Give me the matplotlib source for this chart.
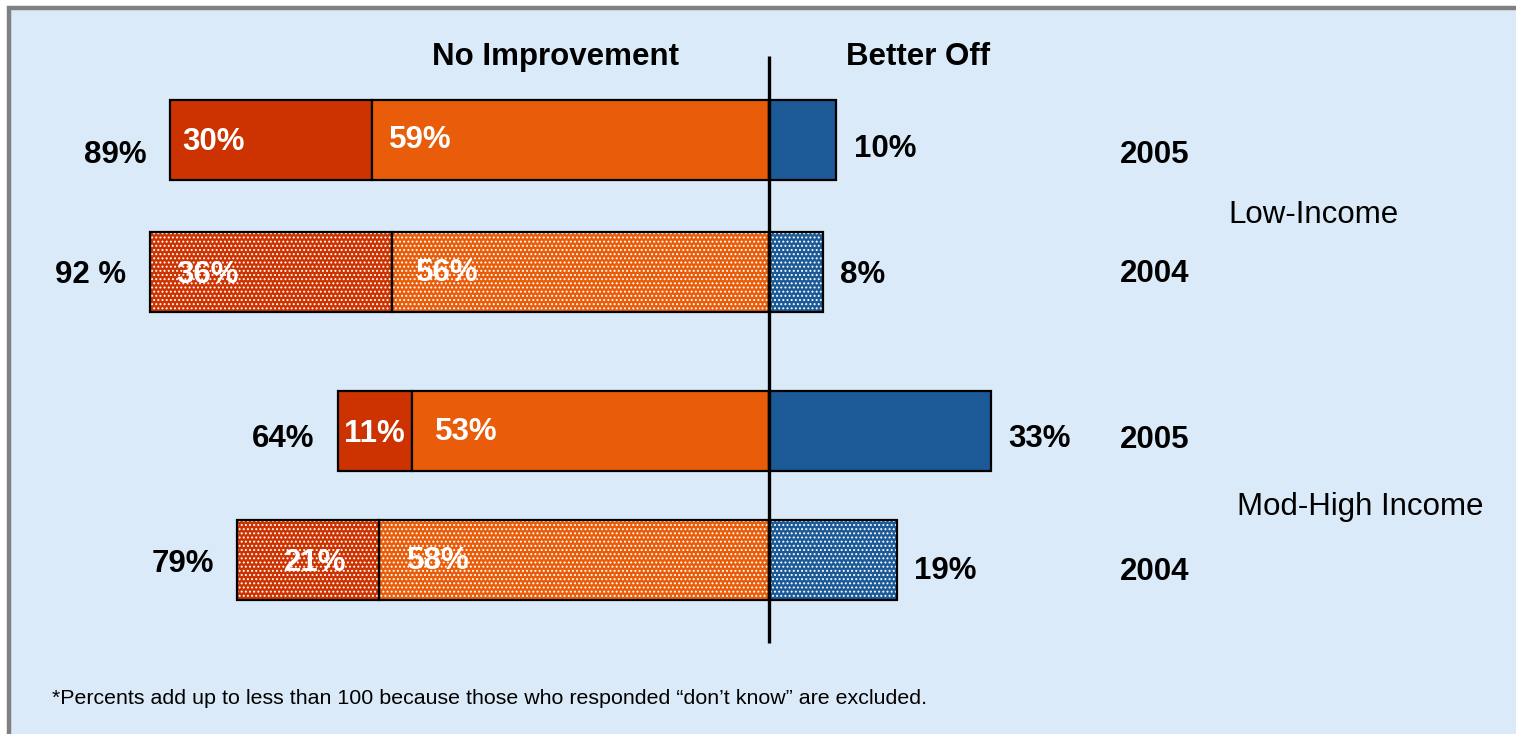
import matplotlib
matplotlib.use('Agg')
import matplotlib.pyplot as plt
from matplotlib.patches import Rectangle

### DATA
ROWS = ['Low-Income 2005', 'Low-Income 2004', 'Mod-High 2005', 'Mod-High 2004']
YEARS = ['2005', '2004', '2005', '2004']
GROUPS = ['Low-Income', 'Mod-High Income']
MUCH_WORSE = [30, 36, 11, 21]        # dark red segment
NO_CHANGE = [59, 56, 53, 58]         # orange segment
BETTER_OFF = [10, 8, 33, 19]         # blue segment
TOTALS = [89, 92, 64, 79]
TOTAL_LABELS = ['89%', '92 %', '64%', '79%']
DOTTED = [False, True, False, True]  # 2004 bars are drawn with a dot pattern

FOOTNOTE = '*Percents add up to less than 100 because those who responded \u201cdon\u2019t know\u201d are excluded.'

### LAYOUT (pixels, figure is 1516 x 734)
W, H = 1516, 734
X0 = 769          # pixel column of the zero line
PX = 6.73         # pixels per percent
ROW_Y = [139.5, 272, 431, 560]
BAR_H = 80
DY = 3            # text baseline nudge
LEFT_Y = [152, 272, 436, 561]
RIGHT_Y = [146, 272, 436, 568]
YEAR_Y = [152, 271, 437, 569]
RED_PAD = [12, 26, 6, 47]
ORANGE_PAD = [17, 24, 23, 28]

RED = '#CC3300'
ORANGE = '#E95D0A'
BLUE = '#1B5A96'
BG = '#DBEAF8'
FONT = 'Liberation Sans'

plt.rcParams['font.family'] = [FONT, 'DejaVu Sans']
plt.rcParams['hatch.color'] = 'white'
plt.rcParams['hatch.linewidth'] = 0.9

fig = plt.figure(figsize=(W / 100, H / 100), dpi=100)
fig.patch.set_facecolor('white')
fig.patches.append(Rectangle((9 / W, -0.1), 1.2, (H - 8) / H + 0.1, transform=fig.transFigure,
                             facecolor=BG, edgecolor='#808080', linewidth=3.2, zorder=-10))

ax = fig.add_axes([0, 0, 1, 1])
ax.set_facecolor('none')
ax.set_xlim(-X0 / PX, (W - X0) / PX)
ax.set_ylim(H, 0)
ax.axis('off')


def seg(left, width, y, color, dotted):
    if dotted:
        ax.barh(y, width, left=left, height=BAR_H, color=color, edgecolor='white',
                linewidth=0, hatch='....', zorder=2)
        ax.barh(y, width, left=left, height=BAR_H, fill=False, edgecolor='black',
                linewidth=1.6, zorder=3)
    else:
        ax.barh(y, width, left=left, height=BAR_H, color=color, edgecolor='black',
                linewidth=1.6, zorder=3)


lbl = dict(fontsize=22.5, fontweight='bold', va='center')
for i in range(len(ROWS)):
    y = ROW_Y[i]
    seg(-(NO_CHANGE[i] + MUCH_WORSE[i]), MUCH_WORSE[i], y, RED, DOTTED[i])
    seg(-NO_CHANGE[i], NO_CHANGE[i], y, ORANGE, DOTTED[i])
    seg(0, BETTER_OFF[i], y, BLUE, DOTTED[i])

    ax.text(-(NO_CHANGE[i] + MUCH_WORSE[i]) + RED_PAD[i] / PX, y + DY, f'{MUCH_WORSE[i]}%',
            color='white', ha='left', zorder=5, **lbl)
    ax.text(-NO_CHANGE[i] + ORANGE_PAD[i] / PX, y - 2 + DY, f'{NO_CHANGE[i]}%',
            color='white', ha='left', zorder=5, **lbl)
    ax.text(-TOTALS[i] - 3.5, LEFT_Y[i] + DY, TOTAL_LABELS[i], color='black', ha='right', **lbl)
    ax.text(BETTER_OFF[i] + 2.6, RIGHT_Y[i] + DY, f'{BETTER_OFF[i]}%', color='black', ha='left', **lbl)
    ax.text(57.3, YEAR_Y[i] + DY, YEARS[i], color='black', ha='center', **lbl)

# group labels sit between their two rows
ax.text(68.3, (ROW_Y[0] + ROW_Y[1]) / 2 + 6 + DY, GROUPS[0], fontsize=22.5, va='center', ha='left')
ax.text(69.6, (ROW_Y[2] + ROW_Y[3]) / 2 + 8 + DY, GROUPS[1], fontsize=22.5, va='center', ha='left')

# headers
ax.text(-31.7, 54 + DY, 'No Improvement', ha='center', **lbl)
ax.text(22.1, 54 + DY, 'Better Off', ha='center', **lbl)

# zero line
ax.plot([0, 0], [56, 643], color='black', linewidth=2.4, zorder=6, solid_capstyle='butt')

ax.text(52 / PX - X0 / PX, 697 + 1, FOOTNOTE, fontsize=15.4, va='center', ha='left')

fig.savefig('out.png', dpi=100, facecolor=fig.get_facecolor())
